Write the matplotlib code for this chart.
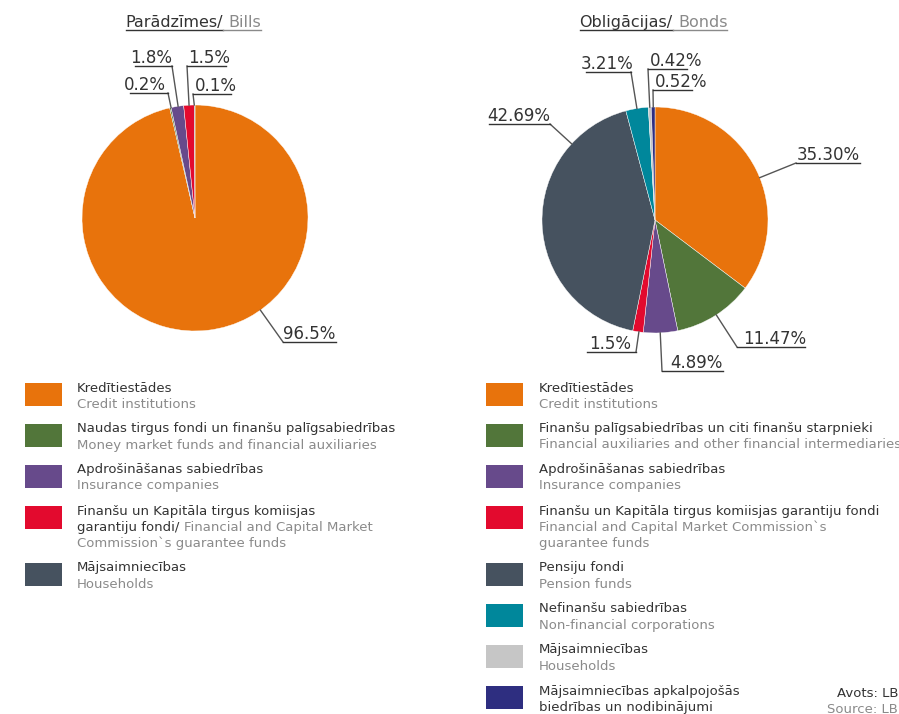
import math
import matplotlib
matplotlib.use("Agg")
import matplotlib.pyplot as plt
from matplotlib.lines import Line2D
from matplotlib.patches import Rectangle

# ---------------- data ----------------
bills_values = [96.5, 0.2, 1.8, 1.5, 0.1]
bills_labels = ["96.5%", "0.2%", "1.8%", "1.5%", "0.1%"]
bills_colors = ["#E8730C", "#52763A", "#674A8B", "#E30A2E", "#46525F"]

bonds_values = [35.30, 11.47, 4.89, 1.5, 42.69, 3.21, 0.42, 0.52]
bonds_labels = ["35.30%", "11.47%", "4.89%", "1.5%", "42.69%", "3.21%", "0.42%", "0.52%"]
bonds_colors = ["#E8730C", "#52763A", "#674A8B", "#E30A2E", "#46525F",
                "#00879B", "#C6C6C6", "#2E2E80"]

DARK = "#333333"
GRAY = "#8A8A8A"

bills_legend = [
    [[("Kredītiestādes", DARK)], [("Credit institutions", GRAY)]],
    [[("Naudas tirgus fondi un finanšu palīgsabiedrības", DARK)],
     [("Money market funds and financial auxiliaries", GRAY)]],
    [[("Apdrošināšanas sabiedrības", DARK)], [("Insurance companies", GRAY)]],
    [[("Finanšu un Kapitāla tirgus komiisjas", DARK)],
     [("garantiju fondi/", DARK), ("Financial and Capital Market", GRAY)],
     [("Commission`s guarantee funds", GRAY)]],
    [[("Mājsaimniecības", DARK)], [("Households", GRAY)]],
]
bonds_legend = [
    [[("Kredītiestādes", DARK)], [("Credit institutions", GRAY)]],
    [[("Finanšu palīgsabiedrības un citi finanšu starpnieki", DARK)],
     [("Financial auxiliaries and other financial intermediaries", GRAY)]],
    [[("Apdrošināšanas sabiedrības", DARK)], [("Insurance companies", GRAY)]],
    [[("Finanšu un Kapitāla tirgus komiisjas garantiju fondi", DARK)],
     [("Financial and Capital Market Commission`s", GRAY)],
     [("guarantee funds", GRAY)]],
    [[("Pensiju fondi", DARK)], [("Pension funds", GRAY)]],
    [[("Nefinanšu sabiedrības", DARK)], [("Non-financial corporations", GRAY)]],
    [[("Mājsaimniecības", DARK)], [("Households", GRAY)]],
    [[("Mājsaimniecības apkalpojošās", DARK)], [("biedrības un nodibinājumi", DARK)]],
]

# ---------------- layout (pixels) ----------------
W, H = 899, 714
FS_TITLE, FS_LABEL, FS_LEG = 11.5, 12, 9.5

# per label: text left x, underline y, underline x0, x1, connector side
bills_lab_layout = [(283, 342, 283, 336, "L"), (124, 93, 130, 168, "R"),
                    (130, 66, 135, 172, "R"), (188, 66, 187, 226, "L"),
                    (195, 94, 193, 231, "L")]
bonds_lab_layout = [(797, 163, 796, 860, "L"), (743, 347, 737, 805, "L"),
                    (670, 371, 662, 723, "L"), (589, 352, 587, 636, "R"),
                    (487, 124, 489, 550, "R"), (581, 72, 586, 631, "R"),
                    (650, 69, 648, 687, "L"), (655, 90, 653, 692, "L")]

fig = plt.figure(figsize=(W / 100, H / 100), dpi=100)
fig.patch.set_facecolor("white")
renderer = fig.canvas.get_renderer()


def fx(x):
    return x / W


def fy(y):
    return 1 - y / H


def text_width(s, size):
    t = fig.text(0, 0, s, fontsize=size)
    w = t.get_window_extent(renderer).width
    t.remove()
    return w


def segments(x, y, segs, size, underline=False, uy=None):
    space = text_width("a a", size) - text_width("aa", size)
    cur = x
    for i, (s, c) in enumerate(segs):
        if i > 0:
            cur += space
        t = fig.text(fx(cur), fy(y), s, color=c, fontsize=size, ha="left", va="baseline")
        w = t.get_window_extent(renderer).width
        if underline:
            x0 = cur - (space if i > 0 else 0)
            fig.add_artist(Line2D([fx(x0), fx(cur + w)], [fy(uy), fy(uy)],
                                  color=c, lw=1.0, transform=fig.transFigure))
        cur += w
    return cur - x


def title(cx, y, segs):
    space = text_width("a a", FS_TITLE) - text_width("aa", FS_TITLE)
    total = sum(text_width(s, FS_TITLE) for s, _ in segs) + space * (len(segs) - 1)
    segments(cx - total / 2, y, segs, FS_TITLE, underline=True, uy=y + 2.5)


def pie(cx, cy, r, values, colors, labels, layout):
    ax = fig.add_axes([fx(cx - r), fy(cy + r), 2 * r / W, 2 * r / H])
    wedges, _ = ax.pie(values, colors=colors, startangle=90, counterclock=False,
                       radius=1, wedgeprops=dict(edgecolor="white", linewidth=0.3))
    ax.set_xlim(-1, 1)
    ax.set_ylim(-1, 1)
    ax.axis("off")
    fig.canvas.draw()
    for wdg, lab, (tx, uy, x0, x1, side) in zip(wedges, labels, layout):
        ex = x0 if side == "L" else x1
        # direction from centre to the connector end
        phi = math.degrees(math.atan2(-(uy - cy), ex - cx))
        t1, t2 = wdg.theta1, wdg.theta2
        ang = None
        for k in range(-3, 4):
            c = phi + 360 * k
            if t1 <= c <= t2:
                ang = c
                break
        if ang is None:
            def d(a, b):
                return abs((a - b + 180) % 360 - 180)
            ang = t1 if d(phi, t1) < d(phi, t2) else t2
        px, py = ax.transData.transform((math.cos(math.radians(ang)),
                                         math.sin(math.radians(ang))))
        ax_px = px
        ax_py = H - py
        fig.add_artist(Line2D([fx(ax_px), fx(ex)], [fy(ax_py), fy(uy)],
                              color="#555555", lw=1.0, transform=fig.transFigure))
        fig.add_artist(Line2D([fx(x0), fx(x1)], [fy(uy), fy(uy)],
                              color="#333333", lw=1.0, transform=fig.transFigure))
        fig.text(fx(tx), fy(uy - 3), lab, fontsize=FS_LABEL, color=DARK,
                 ha="left", va="baseline")


def legend(bx, tx, top, entries, colors):
    y = top
    for entry, col in zip(entries, colors):
        fig.add_artist(Rectangle((fx(bx), fy(y + 23)), 37 / W, 23 / H,
                                 facecolor=col, edgecolor="none",
                                 transform=fig.transFigure))
        for i, line in enumerate(entry):
            segments(tx, y + 8.5 + 16 * i, line, FS_LEG)
        y += 16 * len(entry) + 9


title(193.5, 27, [("Parādzīmes/", DARK), ("Bills", GRAY)])
title(653.5, 27, [("Obligācijas/", DARK), ("Bonds", GRAY)])

pie(195, 218, 113, bills_values, bills_colors, bills_labels, bills_lab_layout)
pie(655, 220, 113, bonds_values, bonds_colors, bonds_labels, bonds_lab_layout)

legend(25, 77, 383, bills_legend, bills_colors)
legend(486, 539, 383, bonds_legend, bonds_colors)

fig.text(fx(837), fy(697), "Avots: LB", fontsize=FS_LEG, color=DARK, ha="left", va="baseline")
fig.text(fx(827), fy(713), "Source: LB", fontsize=FS_LEG, color=GRAY, ha="left", va="baseline")

fig.savefig("out.png", dpi=100, facecolor="white")
